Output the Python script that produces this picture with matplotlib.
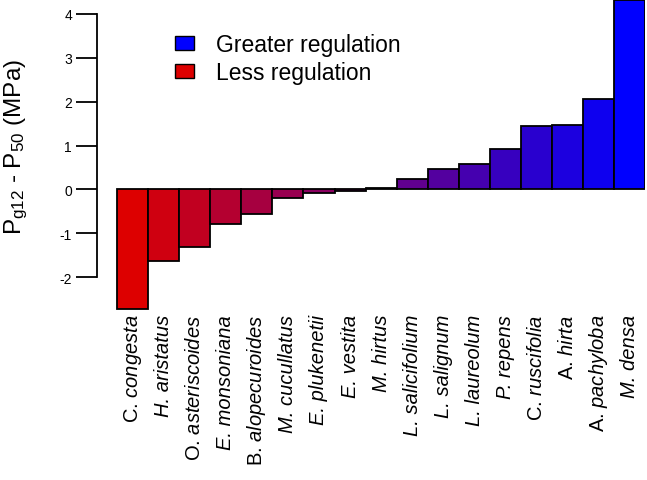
import matplotlib
matplotlib.use("Agg")
import matplotlib.pyplot as plt
from matplotlib.patches import Patch
import numpy as np

plt.rcParams["font.family"] = ["Liberation Sans", "DejaVu Sans"]
plt.rcParams["axes.unicode_minus"] = False
plt.rcParams["mathtext.fontset"] = "custom"
plt.rcParams["mathtext.rm"] = "Liberation Sans"
plt.rcParams["mathtext.it"] = "Liberation Sans:italic"

species = [
    "C. congesta", "H. aristatus", "O. asteriscoides", "E. monsoniana",
    "B. alopecuroides", "M. cucullatus", "E. plukenetii", "E. vestita",
    "M. hirtus", "L. salicifolium", "L. salignum", "L. laureolum",
    "P. repens", "C. ruscifolia", "A. hirta", "A. pachyloba", "M. densa",
]
delta = [
    -2.73, -1.63, -1.31, -0.78, -0.57, -0.19, -0.07, -0.03,
    0.04, 0.24, 0.47, 0.59, 0.93, 1.45, 1.47, 2.06, 4.31,
]

# in the original the genus initial of these prints upright
upright_initials = {"C", "O", "B", "A"}


def tick_label(name):
    genus, epithet = name.split(". ")
    if genus in upright_initials:
        return genus + r". $\mathit{" + epithet + "}$"
    return name


red = np.array([221, 0, 0]) / 255
blue = np.array([0, 0, 255]) / 255
n = len(species)
colors = [tuple(red + (blue - red) * i / (n - 1)) for i in range(n)]

W, H = 647, 481
fig = plt.figure(figsize=(W / 100, H / 100), dpi=100)
ax = fig.add_axes([97 / W, (H - 312) / H, (645 - 97) / W, 312 / H])

x = np.arange(n)
ax.bar(x, delta, width=1.0, color=colors, edgecolor="black", linewidth=1.3)

ax.set_xlim(-0.5 - 0.65, n - 0.5)
ax.set_ylim(-2.77, 4.34)

for s in ["top", "right", "bottom"]:
    ax.spines[s].set_visible(False)
ax.spines["left"].set_bounds(-2, 4)
ax.spines["left"].set_linewidth(1.3)
ax.set_yticks(range(-2, 5))
ax.tick_params(axis="y", length=15, width=1.3, labelsize=10, pad=3)
ax.tick_params(axis="x", length=0, pad=2)
ax.set_xticks(x)
ax.set_xticklabels([tick_label(s) for s in species], rotation=90,
                   fontsize=14.5, ha="center", va="top")
for lbl, name in zip(ax.get_xticklabels(), species):
    if name.split(".")[0] not in upright_initials:
        lbl.set_fontstyle("italic")

ax.set_ylabel(r"P$_{\mathregular{g12}}$ - P$_{\mathregular{50}}$ (MPa)",
              fontsize=17.5)
ax.yaxis.set_label_coords(-0.122, (312 - 147) / 312)

handles = [
    Patch(facecolor=blue, edgecolor="black", label="Greater regulation"),
    Patch(facecolor=red, edgecolor="black", label="Less regulation"),
]
ax.legend(handles=handles, loc="upper left", bbox_to_anchor=(164 / W, (H - 23) / H),
          bbox_transform=fig.transFigure, frameon=False, fontsize=16.5,
          borderpad=0, handlelength=0.8, handleheight=0.57, handletextpad=0.95,
          labelspacing=0.22)

fig.savefig("out.png", dpi=100)
